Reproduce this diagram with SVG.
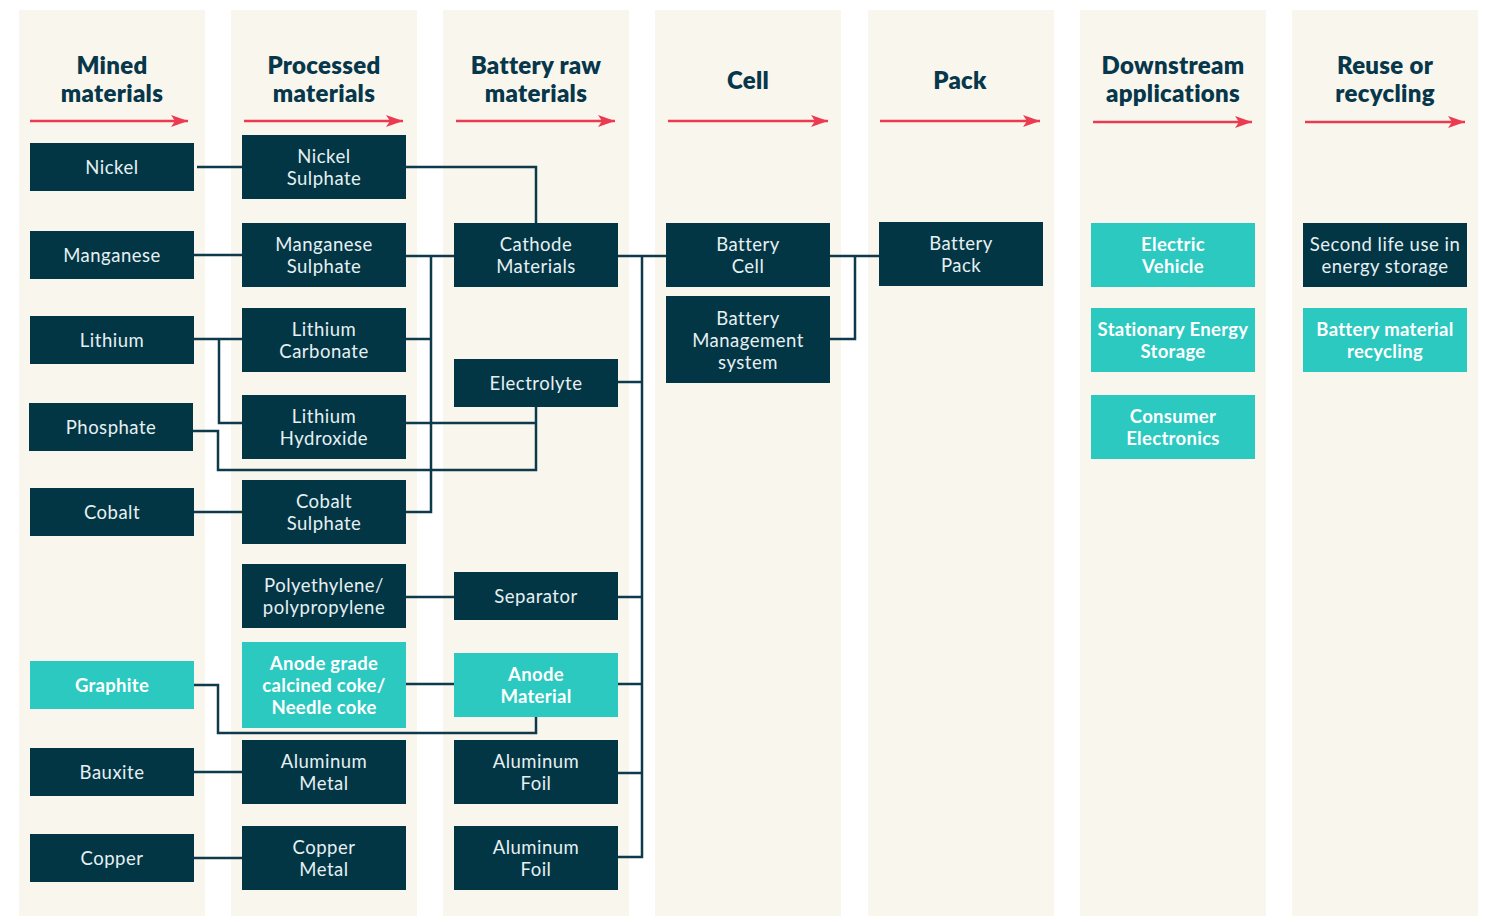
<svg xmlns="http://www.w3.org/2000/svg" width="1490" height="916" viewBox="0 0 1490 916">
<defs>
<marker id="ah" markerWidth="17" markerHeight="12" refX="17" refY="6" orient="auto" markerUnits="userSpaceOnUse">
<path d="M0 0 L17 6 L0 12 L4 6 Z" fill="#ec3b50"/>
</marker>
<style>
.col{fill:#f9f6ee}
.hd{font-family:Lato,"Open Sans",sans-serif;font-weight:800;font-size:24px;fill:#07374a;text-anchor:middle;letter-spacing:0.3px}
.arr{stroke:#ec3b50;stroke-width:2.5;fill:none}
.dk rect{fill:#033645}
.tl rect{fill:#2cc9c0}
.dk text{font-family:Lato,"Open Sans",sans-serif;font-size:18.5px;fill:#e6f0f2;text-anchor:middle;letter-spacing:0.5px}
.tl text{font-family:Lato,"Open Sans",sans-serif;font-size:18.5px;font-weight:700;fill:#ffffff;text-anchor:middle;letter-spacing:0.3px}
.cn path{stroke:#0d3b4b;stroke-width:2.5;fill:none}
</style>
</defs>
<rect x="0" y="0" width="1490" height="916" fill="#ffffff"/>
<g id="columns">
<rect class="col" x="19" y="10" width="186" height="906"/>
<rect class="col" x="231" y="10" width="186" height="906"/>
<rect class="col" x="443" y="10" width="186" height="906"/>
<rect class="col" x="655" y="10" width="186" height="906"/>
<rect class="col" x="868" y="10" width="186" height="906"/>
<rect class="col" x="1080" y="10" width="186" height="906"/>
<rect class="col" x="1292" y="10" width="186" height="906"/>
</g>
<g id="headers">
<text class="hd" x="112" y="74">Mined</text><text class="hd" x="112" y="102">materials</text>
<text class="hd" x="324" y="74">Processed</text><text class="hd" x="324" y="102">materials</text>
<text class="hd" x="536" y="74">Battery raw</text><text class="hd" x="536" y="102">materials</text>
<text class="hd" x="748" y="89">Cell</text>
<text class="hd" x="960" y="89">Pack</text>
<text class="hd" x="1173" y="74">Downstream</text><text class="hd" x="1173" y="102">applications</text>
<text class="hd" x="1385" y="74">Reuse or</text><text class="hd" x="1385" y="102">recycling</text>
<path class="arr" d="M30 121 H188" marker-end="url(#ah)"/>
<path class="arr" d="M244 121 H403" marker-end="url(#ah)"/>
<path class="arr" d="M456 121 H615" marker-end="url(#ah)"/>
<path class="arr" d="M668 121 H828" marker-end="url(#ah)"/>
<path class="arr" d="M880 121 H1040" marker-end="url(#ah)"/>
<path class="arr" d="M1093 122 H1252" marker-end="url(#ah)"/>
<path class="arr" d="M1305 122 H1465" marker-end="url(#ah)"/>
</g>
<g id="connectors" class="cn">
<path d="M197 167 H242"/>
<path d="M406 167 H536 V223"/>
<path d="M194 255 H242"/>
<path d="M406 256 H454"/>
<path d="M431 256 V512 H406"/>
<path d="M406 339 H431"/>
<path d="M194 339 H242"/>
<path d="M219 339 V423 H242"/>
<path d="M406 423 H536"/>
<path d="M193 431 H218 V470 H536 V407"/>
<path d="M194 512 H242"/>
<path d="M406 597 H454"/>
<path d="M194 685 H218 V733 H536 V717"/>
<path d="M406 684 H454"/>
<path d="M194 772 H242"/>
<path d="M194 858 H242"/>
<path d="M618 256 H666"/>
<path d="M642 256 V857 H618"/>
<path d="M618 382 H642"/>
<path d="M618 597 H642"/>
<path d="M618 684 H642"/>
<path d="M618 773 H642"/>
<path d="M830 256 H879"/>
<path d="M855 256 V339 H830"/>
</g>
<g id="n-nickel" class="dk"><rect x="30" y="143" width="164" height="48"/><text x="112" y="173.5">Nickel</text></g>
<g id="n-manganese" class="dk"><rect x="30" y="231" width="164" height="48"/><text x="112" y="261.5">Manganese</text></g>
<g id="n-lithium" class="dk"><rect x="30" y="316" width="164" height="48"/><text x="112" y="346.5">Lithium</text></g>
<g id="n-phosphate" class="dk"><rect x="29" y="403" width="164" height="48"/><text x="111" y="433.5">Phosphate</text></g>
<g id="n-cobalt" class="dk"><rect x="30" y="488" width="164" height="48"/><text x="112" y="518.5">Cobalt</text></g>
<g id="n-graphite" class="tl"><rect x="30" y="661" width="164" height="48"/><text x="112" y="691.5">Graphite</text></g>
<g id="n-bauxite" class="dk"><rect x="30" y="748" width="164" height="48"/><text x="112" y="778.5">Bauxite</text></g>
<g id="n-copper" class="dk"><rect x="30" y="834" width="164" height="48"/><text x="112" y="864.5">Copper</text></g>
<g id="n-nickel-sulphate" class="dk"><rect x="242" y="135" width="164" height="64"/><text x="324" y="163">Nickel</text><text x="324" y="185">Sulphate</text></g>
<g id="n-manganese-sulphate" class="dk"><rect x="242" y="223" width="164" height="64"/><text x="324" y="251">Manganese</text><text x="324" y="273">Sulphate</text></g>
<g id="n-lithium-carbonate" class="dk"><rect x="242" y="308" width="164" height="64"/><text x="324" y="336">Lithium</text><text x="324" y="358">Carbonate</text></g>
<g id="n-lithium-hydroxide" class="dk"><rect x="242" y="395" width="164" height="64"/><text x="324" y="423">Lithium</text><text x="324" y="445">Hydroxide</text></g>
<g id="n-cobalt-sulphate" class="dk"><rect x="242" y="480" width="164" height="64"/><text x="324" y="508">Cobalt</text><text x="324" y="530">Sulphate</text></g>
<g id="n-polyethylene" class="dk"><rect x="242" y="564" width="164" height="64"/><text x="324" y="592">Polyethylene/</text><text x="324" y="614">polypropylene</text></g>
<g id="n-anode-grade" class="tl"><rect x="242" y="642" width="164" height="86"/><text x="324" y="670">Anode grade</text><text x="324" y="692">calcined coke/</text><text x="324" y="714">Needle coke</text></g>
<g id="n-aluminum-metal" class="dk"><rect x="242" y="740" width="164" height="64"/><text x="324" y="768">Aluminum</text><text x="324" y="790">Metal</text></g>
<g id="n-copper-metal" class="dk"><rect x="242" y="826" width="164" height="64"/><text x="324" y="854">Copper</text><text x="324" y="876">Metal</text></g>
<g id="n-cathode" class="dk"><rect x="454" y="223" width="164" height="64"/><text x="536" y="251">Cathode</text><text x="536" y="273">Materials</text></g>
<g id="n-electrolyte" class="dk"><rect x="454" y="359" width="164" height="48"/><text x="536" y="389.5">Electrolyte</text></g>
<g id="n-separator" class="dk"><rect x="454" y="572" width="164" height="48"/><text x="536" y="602.5">Separator</text></g>
<g id="n-anode-material" class="tl"><rect x="454" y="653" width="164" height="64"/><text x="536" y="681">Anode</text><text x="536" y="703">Material</text></g>
<g id="n-aluminum-foil-1" class="dk"><rect x="454" y="740" width="164" height="64"/><text x="536" y="768">Aluminum</text><text x="536" y="790">Foil</text></g>
<g id="n-aluminum-foil-2" class="dk"><rect x="454" y="826" width="164" height="64"/><text x="536" y="854">Aluminum</text><text x="536" y="876">Foil</text></g>
<g id="n-battery-cell" class="dk"><rect x="666" y="223" width="164" height="64"/><text x="748" y="251">Battery</text><text x="748" y="273">Cell</text></g>
<g id="n-bms" class="dk"><rect x="666" y="296" width="164" height="87"/><text x="748" y="325">Battery</text><text x="748" y="347">Management</text><text x="748" y="369">system</text></g>
<g id="n-battery-pack" class="dk"><rect x="879" y="222" width="164" height="64"/><text x="961" y="250">Battery</text><text x="961" y="272">Pack</text></g>
<g id="n-ev" class="tl"><rect x="1091" y="223" width="164" height="64"/><text x="1173" y="251">Electric</text><text x="1173" y="273">Vehicle</text></g>
<g id="n-ess" class="tl"><rect x="1091" y="308" width="164" height="64"/><text x="1173" y="336">Stationary Energy</text><text x="1173" y="358">Storage</text></g>
<g id="n-consumer" class="tl"><rect x="1091" y="395" width="164" height="64"/><text x="1173" y="423">Consumer</text><text x="1173" y="445">Electronics</text></g>
<g id="n-second-life" class="dk"><rect x="1303" y="223" width="164" height="64"/><text x="1385" y="251">Second life use in</text><text x="1385" y="273">energy storage</text></g>
<g id="n-recycling" class="tl"><rect x="1303" y="308" width="164" height="64"/><text x="1385" y="336">Battery material</text><text x="1385" y="358">recycling</text></g>
</svg>
